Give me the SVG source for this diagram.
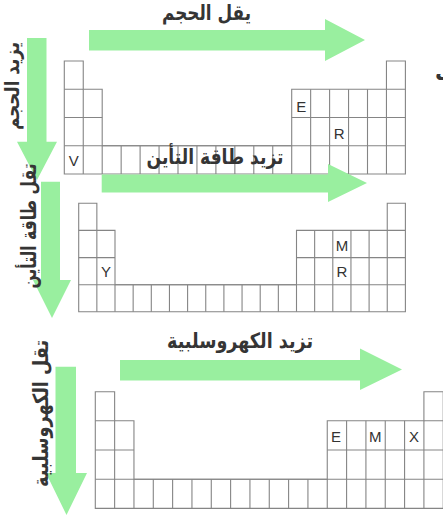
<svg xmlns="http://www.w3.org/2000/svg" width="443" height="517" viewBox="0 0 443 517">
<style>
.bg{fill:#ffffff}
.arr{fill:#99ef9f}
.grid{fill:#ffffff;stroke:#858585;stroke-width:1.1}
.gl{fill:none;stroke:#858585;stroke-width:1.1}
.lbl{font-family:"Liberation Sans",Arial,sans-serif;font-size:15px;fill:#333333;text-anchor:middle}
.ar{font-family:"DejaVu Sans",sans-serif;font-weight:bold;font-size:21px;fill:#353535;text-anchor:middle}
</style>
<rect class="bg" x="0" y="0" width="443" height="517"/>

<g id="table1">
<path class="grid" d="M64.3,61 H83.25 V89.3 H102.2 V145.7 H291.7 V89.3 H386.45 V61 H405.4 V174 H64.3 Z"/>
<path class="gl" d="M64.3,89.3 H83.25 M386.45,89.3 H405.4 M64.3,117.5 H102.2 M291.7,117.5 H405.4 M64.3,145.7 H405.4 M83.25,89.3 V174 M102.2,145.7 V174 M121.15,145.7 V174 M140.1,145.7 V174 M159.05,145.7 V174 M178,145.7 V174 M196.95,145.7 V174 M215.9,145.7 V174 M234.85,145.7 V174 M253.8,145.7 V174 M272.75,145.7 V174 M291.7,145.7 V174 M310.65,89.3 V174 M329.6,89.3 V174 M348.55,89.3 V174 M367.5,89.3 V174 M386.45,89.3 V174"/>
<text class="lbl" x="301.2" y="111.5">E</text>
<text class="lbl" x="339.1" y="138.5">R</text>
<text class="lbl" x="73.8" y="165.5">V</text>
</g>

<g id="table2">
<path class="grid" d="M78.7,203.3 H96.85 V230.4 H115 V284.7 H296.5 V230.4 H387.25 V203.3 H405.4 V311.8 H78.7 Z"/>
<path class="gl" d="M78.7,230.4 H96.85 M387.25,230.4 H405.4 M78.7,257.6 H115 M296.5,257.6 H405.4 M78.7,284.7 H405.4 M96.85,230.4 V311.8 M115,284.7 V311.8 M133.15,284.7 V311.8 M151.3,284.7 V311.8 M169.45,284.7 V311.8 M187.6,284.7 V311.8 M205.75,284.7 V311.8 M223.9,284.7 V311.8 M242.05,284.7 V311.8 M260.2,284.7 V311.8 M278.35,284.7 V311.8 M296.5,284.7 V311.8 M314.65,230.4 V311.8 M332.8,230.4 V311.8 M350.95,230.4 V311.8 M369.1,230.4 V311.8 M387.25,230.4 V311.8"/>
<text class="lbl" x="341.9" y="250.5">M</text>
<text class="lbl" x="341.9" y="277">R</text>
<text class="lbl" x="105.9" y="277">Y</text>
</g>

<g id="table3">
<path class="grid" d="M95.3,391.7 H114.63 V420.8 H133.96 V479.2 H327.26 V420.8 H423.91 V391.7 H443.24 V508.4 H95.3 Z"/>
<path class="gl" d="M95.3,420.8 H114.63 M423.91,420.8 H443.24 M95.3,450 H133.96 M327.26,450 H443.24 M95.3,479.2 H443.24 M114.63,420.8 V508.4 M133.96,479.2 V508.4 M153.29,479.2 V508.4 M172.62,479.2 V508.4 M191.95,479.2 V508.4 M211.28,479.2 V508.4 M230.61,479.2 V508.4 M249.94,479.2 V508.4 M269.27,479.2 V508.4 M288.6,479.2 V508.4 M307.93,479.2 V508.4 M327.26,479.2 V508.4 M346.59,420.8 V508.4 M365.92,420.8 V508.4 M385.25,420.8 V508.4 M404.58,420.8 V508.4 M423.91,420.8 V508.4"/>
<text class="lbl" x="336" y="441.5">E</text>
<text class="lbl" x="375.2" y="441.5">M</text>
<text class="lbl" x="414" y="441.5">X</text>
</g>

<g id="connectors">
<polygon class="arr" points="89,30 325,30 325,19 365,40 325,61 325,50.5 89,50.5"/>
<polygon class="arr" points="101.7,174.5 328,174.5 328,164 367,183 328,202 328,192.5 101.7,192.5"/>
<polygon class="arr" points="120,360 360,360 360,348.5 402,369.5 360,390 360,380.5 120,380.5"/>
<polygon class="arr" points="27,38 46.5,38 46.5,141.7 57,141.7 37,180 17,141.7 27,141.7"/>
<polygon class="arr" points="41,181.7 60,181.7 60,280 71,280 52,318 33,280 41,280"/>
<polygon class="arr" points="55.5,366.7 76,366.7 76,473 87,473 66.5,515 46,473 55.5,473"/>
</g>

<g id="labels">
<text class="ar" x="206.5" y="20" textLength="89" lengthAdjust="spacingAndGlyphs">يقل الحجم</text>
<text class="ar" x="215" y="164" textLength="137" lengthAdjust="spacingAndGlyphs">تزيد طاقة التأين</text>
<text class="ar" x="240" y="348" textLength="146" lengthAdjust="spacingAndGlyphs">تزيد الكهروسلبية</text>
<text class="ar" transform="translate(19,86) rotate(-90)" x="0" y="0" style="font-size:20px" textLength="88" lengthAdjust="spacingAndGlyphs">يزيد الحجم</text>
<text class="ar" transform="translate(36,226) rotate(-90)" x="0" y="0" textLength="125" lengthAdjust="spacingAndGlyphs">تقل طاقة التأين</text>
<text class="ar" transform="translate(48,413.5) rotate(-90)" x="0" y="0" textLength="147" lengthAdjust="spacingAndGlyphs">تقل الكهروسلبية</text>
<text class="ar" x="435" y="80" style="text-anchor:start">ف</text>
</g>
</svg>
